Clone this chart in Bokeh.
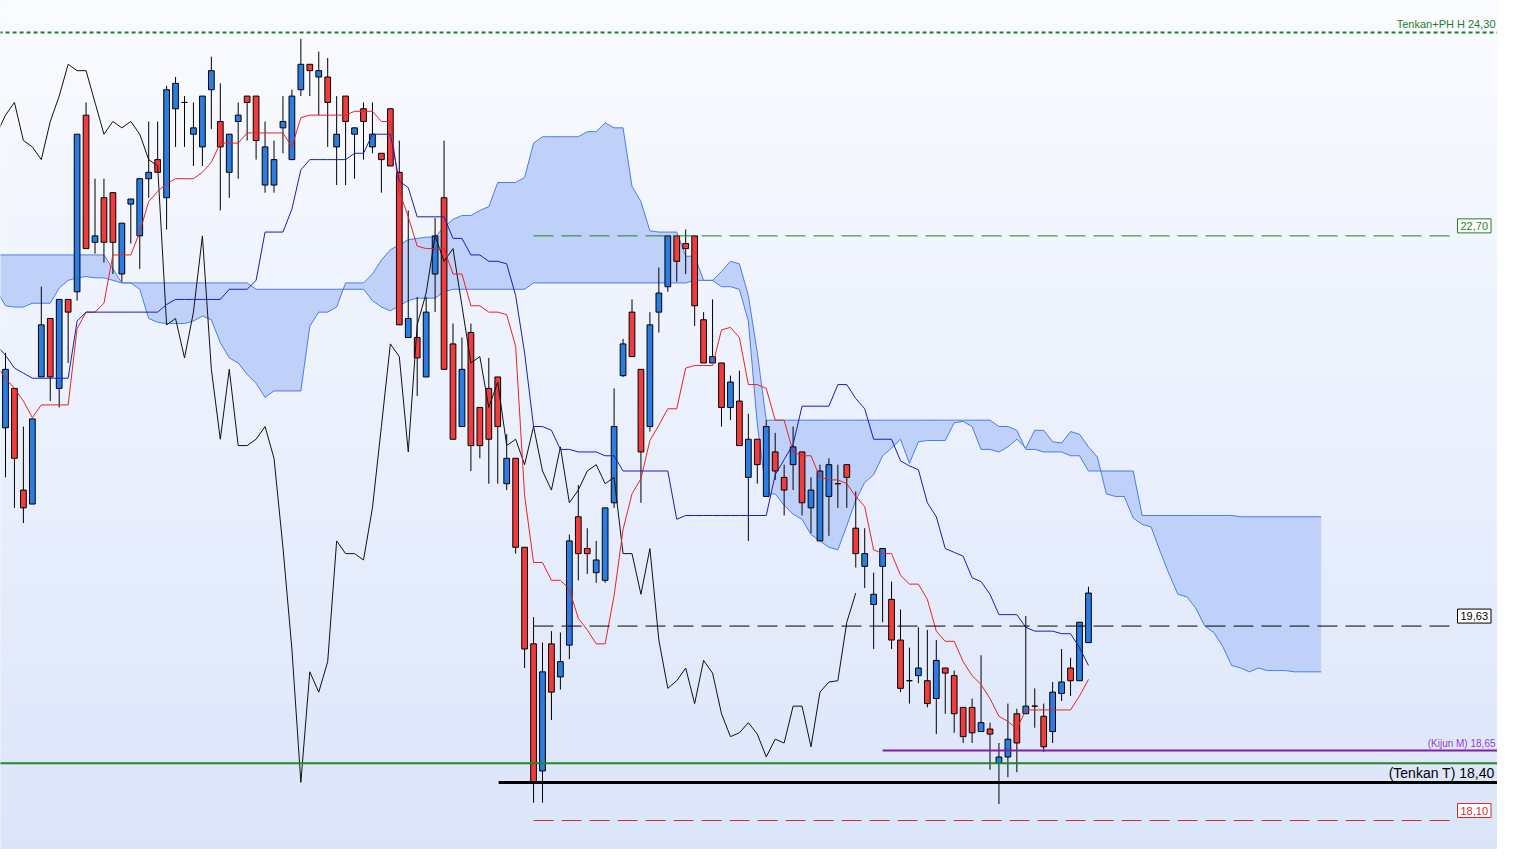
from bokeh.plotting import figure
from bokeh.models import Label, Range1d
from bokeh.embed import file_html
from bokeh.resources import INLINE

# ---------------- data ----------------
OPEN = [21.19, 21.50, 20.70, 20.59, 21.59, 22.05, 21.50, 22.20, 22.26, 23.65,
        22.65, 23.00, 23.04, 22.40, 22.95, 22.70, 23.15, 23.30, 23.00, 23.70,
        23.75, 23.50, 23.40, 23.85, 23.60, 23.20, 23.60, 23.80, 23.80, 23.10,
        23.10, 23.55, 23.30, 23.85, 24.05, 23.95, 23.95, 23.40, 23.80, 23.50,
        23.70, 23.40, 23.35, 23.70, 23.20, 21.90, 21.90, 21.59, 22.40, 23.00,
        21.85, 21.20, 21.94, 21.35, 21.50, 21.59, 20.75, 20.95, 20.25, 19.49,
        18.49, 19.49, 19.23, 19.48, 20.49, 20.24, 20.05, 19.99, 20.60, 21.60,
        22.10, 21.65, 21.20, 22.10, 22.30, 22.70, 22.64, 22.70, 22.04, 21.70,
        21.70, 21.35, 21.40, 20.80, 21.10, 20.65, 21.00, 20.80, 20.90, 21.00,
        20.56, 20.30, 20.65, 20.75, 20.90, 20.40, 20.10, 19.80, 20.10, 19.84,
        19.52, 19.20, 19.24, 19.20, 19.06, 19.30, 19.24, 18.99, 18.99, 18.80,
        18.82, 18.55, 18.60, 18.94, 18.94, 19.00, 18.92, 18.80, 19.10, 19.30,
        19.20, 19.50]
HIGH = [21.78, 21.50, 21.20, 21.26, 22.30, 22.05, 22.20, 22.20, 23.50, 23.75,
        23.15, 23.15, 23.04, 22.80, 22.99, 23.15, 23.60, 23.60, 23.88, 23.95,
        23.80, 23.75, 23.80, 24.11, 23.90, 23.50, 23.75, 23.80, 23.80, 23.60,
        23.45, 23.80, 23.85, 24.25, 24.05, 24.15, 24.10, 23.80, 23.80, 23.55,
        23.75, 23.75, 23.35, 23.70, 23.45, 22.90, 22.22, 22.22, 22.84, 23.45,
        22.01, 21.90, 22.01, 21.35, 21.74, 21.59, 21.14, 20.95, 20.25, 19.70,
        19.50, 19.59, 19.58, 20.35, 20.74, 20.40, 20.30, 20.56, 21.50, 21.89,
        22.20, 21.65, 22.10, 22.45, 22.70, 22.70, 22.75, 22.70, 22.10, 22.20,
        21.70, 21.60, 21.64, 21.30, 21.10, 21.25, 21.15, 20.90, 21.20, 21.00,
        20.80, 20.90, 20.95, 20.90, 20.90, 20.69, 20.40, 20.05, 20.24, 19.98,
        19.76, 19.46, 19.62, 19.60, 19.52, 19.30, 19.28, 18.99, 19.06, 19.40,
        18.87, 18.71, 19.02, 18.98, 19.71, 19.14, 19.02, 19.19, 19.45, 19.38,
        19.66, 19.94]
LOW = [20.80, 20.56, 20.44, 20.59, 21.59, 21.40, 21.35, 21.70, 22.19, 22.60,
       22.56, 22.49, 22.40, 22.34, 22.64, 22.44, 23.00, 23.20, 22.75, 23.40,
       23.40, 23.25, 23.25, 23.54, 22.90, 23.00, 23.15, 23.45, 23.30, 23.04,
       23.04, 23.35, 23.30, 23.80, 23.80, 23.65, 23.40, 23.10, 23.10, 23.15,
       23.30, 23.35, 23.04, 23.25, 22.00, 21.90, 21.44, 21.59, 22.10, 21.65,
       21.10, 21.20, 20.85, 20.95, 20.75, 20.75, 20.70, 20.20, 19.30, 18.24,
       18.24, 18.89, 19.13, 19.37, 19.99, 20.04, 19.97, 19.97, 20.56, 21.59,
       21.75, 20.60, 21.16, 21.94, 22.26, 22.34, 22.40, 21.99, 21.70, 21.70,
       21.20, 21.25, 21.05, 20.30, 20.75, 20.65, 20.78, 20.50, 20.70, 20.50,
       20.36, 20.30, 20.34, 20.56, 20.56, 20.09, 19.93, 19.45, 19.66, 19.45,
       19.11, 19.02, 19.18, 18.99, 18.78, 18.94, 18.79, 18.71, 18.71, 18.80,
       18.50, 18.23, 18.44, 18.48, 18.94, 18.83, 18.64, 18.71, 19.04, 19.08,
       19.20, 19.50]
CLOSE = [21.65, 20.95, 20.56, 21.26, 22.00, 21.59, 22.20, 22.10, 23.50, 22.60,
         22.70, 22.65, 22.65, 22.80, 22.99, 23.15, 23.20, 23.20, 23.85, 23.90,
         23.75, 23.55, 23.80, 24.00, 23.40, 23.50, 23.65, 23.75, 23.45, 23.40,
         23.30, 23.60, 23.80, 24.05, 24.00, 24.00, 23.75, 23.50, 23.60, 23.55,
         23.60, 23.50, 23.30, 23.25, 22.00, 22.05, 21.74, 22.10, 22.70, 21.65,
         21.10, 21.65, 21.05, 21.05, 21.10, 21.20, 20.95, 20.25, 19.45, 18.40,
         19.27, 19.11, 19.35, 20.30, 20.20, 20.20, 20.15, 20.56, 21.20, 21.85,
         21.75, 21.00, 22.00, 22.25, 22.70, 22.50, 22.60, 22.15, 21.70, 21.75,
         21.35, 21.55, 21.05, 21.10, 20.90, 21.20, 20.85, 20.70, 21.04, 20.60,
         20.70, 20.85, 20.90, 20.75, 20.80, 20.20, 20.20, 19.88, 20.24, 19.52,
         19.14, 19.20, 19.30, 19.02, 19.36, 19.26, 18.94, 18.76, 18.79, 18.87,
         18.78, 18.60, 18.74, 18.71, 19.00, 19.00, 18.68, 19.11, 19.19, 19.20,
         19.66, 19.89]
# indicator lines start one bar before the first full candle (left edge)
LINE_START = -1
TENKAN = [21.68,
          21.58, 21.50, 21.40, 21.27, 21.37, 21.37, 21.37, 21.37, 21.97, 22.10,
          22.10, 22.17, 22.55, 22.55, 22.55, 22.73, 22.97, 23.05, 23.11, 23.15,
          23.15, 23.15, 23.20, 23.28, 23.43, 23.43, 23.43, 23.51, 23.51, 23.51,
          23.51, 23.51, 23.40, 23.63, 23.65, 23.65, 23.65, 23.65, 23.65, 23.68,
          23.68, 23.68, 23.60, 23.60, 23.05, 22.85, 22.62, 22.60, 22.60, 22.60,
          22.40, 22.40, 22.15, 22.15, 22.10, 22.10, 22.08, 21.83, 20.66, 20.13,
          20.13, 19.99, 19.99, 19.92, 19.69, 19.60, 19.49, 19.49, 19.87, 20.39,
          20.67, 20.79, 21.09, 21.21, 21.34, 21.34, 21.66, 21.68, 21.68, 21.68,
          21.96, 21.98, 21.90, 21.53, 21.53, 21.50, 21.25, 21.25, 21.00, 20.97,
          20.97, 20.80, 20.78, 20.78, 20.75, 20.65, 20.57, 20.23, 20.20, 20.20,
          20.03, 19.96, 19.96, 19.84, 19.59, 19.51, 19.51, 19.35, 19.24, 19.17,
          19.06, 18.92, 18.88, 18.82, 18.97, 18.97, 18.97, 18.97, 18.97, 18.97,
          19.08, 19.21]
KIJUN = [21.84,
         21.76, 21.66, 21.62, 21.58, 21.58, 21.58, 21.58, 21.58, 22.03, 22.10,
         22.10, 22.10, 22.10, 22.10, 22.10, 22.10, 22.10, 22.10, 22.16, 22.20,
         22.20, 22.20, 22.20, 22.20, 22.20, 22.28, 22.28, 22.28, 22.35, 22.73,
         22.73, 22.73, 22.91, 23.22, 23.30, 23.30, 23.30, 23.30, 23.30, 23.35,
         23.35, 23.50, 23.50, 23.50, 23.13, 23.08, 22.85, 22.85, 22.85, 22.85,
         22.68, 22.68, 22.55, 22.55, 22.50, 22.50, 22.48, 22.23, 21.78, 21.20,
         21.20, 21.17, 21.02, 21.02, 21.00, 21.00, 21.00, 20.97, 20.97, 20.85,
         20.85, 20.85, 20.85, 20.85, 20.85, 20.47, 20.50, 20.50, 20.50, 20.50,
         20.50, 20.50, 20.50, 20.50, 20.50, 20.50, 20.82, 20.94, 21.06, 21.36,
         21.36, 21.36, 21.36, 21.53, 21.53, 21.42, 21.34, 21.10, 21.10, 21.10,
         20.93, 20.89, 20.86, 20.60, 20.49, 20.24, 20.21, 20.18, 20.01, 19.98,
         19.88, 19.72, 19.72, 19.72, 19.62, 19.59, 19.59, 19.59, 19.57, 19.57,
         19.46, 19.32]
SENKOU_A = [22.27,
            22.15, 22.14, 22.14, 22.17, 22.17, 22.17, 22.29, 22.35, 22.37, 22.38,
            22.37, 22.37, 22.35, 22.33, 22.33, 22.28, 22.05, 22.02, 22.01, 22.01,
            22.01, 22.03, 22.07, 22.04, 21.86, 21.74, 21.70, 21.61, 21.54, 21.43,
            21.48, 21.48, 21.48, 21.48, 21.99, 22.10, 22.10, 22.14, 22.33, 22.33,
            22.33, 22.40, 22.51, 22.59, 22.63, 22.67, 22.68, 22.69, 22.69, 22.77,
            22.83, 22.86, 22.86, 22.90, 22.93, 23.12, 23.12, 23.12, 23.16, 23.43,
            23.48, 23.48, 23.48, 23.48, 23.48, 23.52, 23.52, 23.59, 23.55, 23.55,
            23.09, 22.97, 22.74, 22.73, 22.73, 22.73, 22.54, 22.54, 22.35, 22.35,
            22.30, 22.30, 22.28, 22.03, 21.22, 20.67, 20.67, 20.58, 20.51, 20.47,
            20.35, 20.30, 20.25, 20.23, 20.42, 20.62, 20.76, 20.82, 20.97, 21.03,
            21.10, 20.91, 21.08, 21.09, 21.09, 21.09, 21.23, 21.24, 21.20, 21.02,
            21.02, 21.00, 21.04, 21.10, 21.03, 21.17, 21.17, 21.08, 21.07, 21.16,
            21.14, 21.04, 20.96, 20.67, 20.65, 20.65, 20.48, 20.43, 20.41, 20.22,
            20.04, 19.88, 19.86, 19.77, 19.63, 19.58, 19.47, 19.32, 19.30, 19.27,
            19.30, 19.28, 19.28, 19.28, 19.27, 19.27, 19.27, 19.27]
SENKOU_B = ([22.55] * 13 + [22.44] + [22.33] * 15 + [22.28] * 13
            + [22.19, 22.14, 22.11, 22.15, 22.19, 22.21, 22.21, 22.21, 22.26]
            + [22.28] * 9 + [22.33] * 18
            + [22.35, 22.35, 22.35, 22.42, 22.50, 22.48, 22.23, 21.78, 21.25]
            + [21.25] * 25
            + [21.20, 21.20, 21.17, 21.02, 21.02, 21.00, 21.00, 21.00, 20.97, 20.97]
            + [20.85] * 6 + [20.50] * 11 + [20.49] * 10)
CHIKOU_SHIFT = 26

# horizontal levels and their labels
LEVEL_PH = 24.30
LEVEL_G = 22.70
LEVEL_BOX = 19.63
LEVEL_KIJUN_M = 18.65
LEVEL_GREEN = 18.55
LEVEL_TENKAN_T = 18.40
LEVEL_RED = 18.10
TXT_PH = "Tenkan+PH H 24,30"
TXT_G = "22,70"
TXT_BOX = "19,63"
TXT_KIJUN_M = "(Kijun M) 18,65"
TXT_TENKAN_T = "(Tenkan T) 18,40"
TXT_RED = "18,10"

# ---------------- figure ----------------
W, H = 1497, 849
X0, X1 = -0.559, 166.704
Y0, Y1 = 17.872, 24.552
FONT = "Liberation Sans"

p = figure(width=W, height=H, x_range=Range1d(X0, X1), y_range=Range1d(Y0, Y1),
           output_backend="svg", toolbar_location=None, min_border=0,
           x_axis_type=None, y_axis_type=None)
p.grid.visible = False
p.outline_line_color = None
p.background_fill_color = "#eef2fd"
p.border_fill_color = "#eef2fd"

# vertical background gradient (white at top -> light blue at bottom)
NB = 80
top_c = (250, 251, 255)
bot_c = (219, 229, 250)
span = (Y1 - Y0) / NB
b_bot, b_top, b_col = [], [], []
for k in range(NB):
    t = (k + 0.5) / NB  # 0 at bottom, 1 at top
    c = tuple(int(round(bot_c[j] + (top_c[j] - bot_c[j]) * t)) for j in range(3))
    b_bot.append(Y0 + k * span - 0.01)
    b_top.append(Y0 + (k + 1) * span + 0.01)
    b_col.append("#%02x%02x%02x" % c)
p.quad(left=X0 - 5, right=X1 + 5, bottom=b_bot, top=b_top, fill_color=b_col,
       line_color=None)

# Ichimoku cloud
cx = [LINE_START + k for k in range(len(SENKOU_A))]
p.varea(x=cx, y1=SENKOU_A, y2=SENKOU_B, fill_color="#c0d1f9", fill_alpha=1.0)
p.line(cx, SENKOU_A, line_color="#4d7be6", line_width=1)
p.line(cx, SENKOU_B, line_color="#4d7be6", line_width=1)

# candles
idx = list(range(len(OPEN)))
p.segment(x0=idx, y0=LOW, x1=idx, y1=HIGH, line_color="black", line_width=1)
up = [i for i in idx if CLOSE[i] >= OPEN[i]]
dn = [i for i in idx if CLOSE[i] < OPEN[i]]
p.vbar(x=up, width=0.64, bottom=[OPEN[i] for i in up], top=[CLOSE[i] for i in up],
       fill_color="#2b7de3", line_color="black", line_width=1)
p.vbar(x=dn, width=0.64, bottom=[CLOSE[i] for i in dn], top=[OPEN[i] for i in dn],
       fill_color="#f03c3c", line_color="black", line_width=1)

# chikou (close shifted back), tenkan, kijun
lx = [LINE_START + k for k in range(len(TENKAN))]
p.line([i - CHIKOU_SHIFT for i in idx], CLOSE, line_color="#111111", line_width=1)
p.line(lx, TENKAN, line_color="#e82424", line_width=1)
p.line(lx, KIJUN, line_color="#1c1cb8", line_width=1)

# horizontal levels
START_DASH = 59.0
END_DASH = 161.45
START_BLACK = 55.1
START_PURPLE = 98.0
p.line([X0 - 1, X1 + 1], [LEVEL_PH, LEVEL_PH], line_color="#1f7f1f", line_width=2,
       line_dash="4 3")
p.line([START_DASH, END_DASH], [LEVEL_G, LEVEL_G], line_color="#1f7f1f", line_width=1,
       line_dash="20 8")
p.line([START_DASH, END_DASH], [LEVEL_BOX, LEVEL_BOX], line_color="black", line_width=1,
       line_dash="20 8")
p.line([START_DASH, END_DASH], [LEVEL_RED, LEVEL_RED], line_color="#d42a2a", line_width=1,
       line_dash="20 8")
p.line([START_PURPLE, X1 + 1], [LEVEL_KIJUN_M, LEVEL_KIJUN_M], line_color="#7f1fa8",
       line_width=2)
p.line([X0 - 1, X1 + 1], [LEVEL_GREEN, LEVEL_GREEN], line_color="#1f8a1f", line_width=2)
p.line([START_BLACK, X1 + 1], [LEVEL_TENKAN_T, LEVEL_TENKAN_T], line_color="black",
       line_width=3)

# labels
def boxed(level, txt, col):
    p.add_layout(Label(x=1457, y=level, x_units="screen", y_units="data", text=txt,
                       text_font=FONT, text_font_size="11px", text_color=col,
                       text_align="left", text_baseline="bottom", y_offset=3,
                       background_fill_color="white", border_line_color=col,
                       border_line_width=1, padding=3))

boxed(LEVEL_G, TXT_G, "#1f7f1f")
boxed(LEVEL_BOX, TXT_BOX, "black")
boxed(LEVEL_RED, TXT_RED, "#d42a2a")

p.add_layout(Label(x=1495, y=LEVEL_PH, x_units="screen", text=TXT_PH, text_font=FONT,
                   text_font_size="11px", text_color="#1f7f1f", text_align="right",
                   text_baseline="bottom", y_offset=3))
p.add_layout(Label(x=1495, y=LEVEL_KIJUN_M, x_units="screen", text=TXT_KIJUN_M,
                   text_font=FONT, text_font_size="10px", text_color="#9a3cc4",
                   text_align="right", text_baseline="bottom", y_offset=2))
p.add_layout(Label(x=1494, y=(LEVEL_GREEN + LEVEL_TENKAN_T) / 2, x_units="screen",
                   text=TXT_TENKAN_T, text_font=FONT, text_font_size="14px",
                   text_color="black", text_align="right", text_baseline="middle"))

open("out.html", "w").write(file_html(p, INLINE))
